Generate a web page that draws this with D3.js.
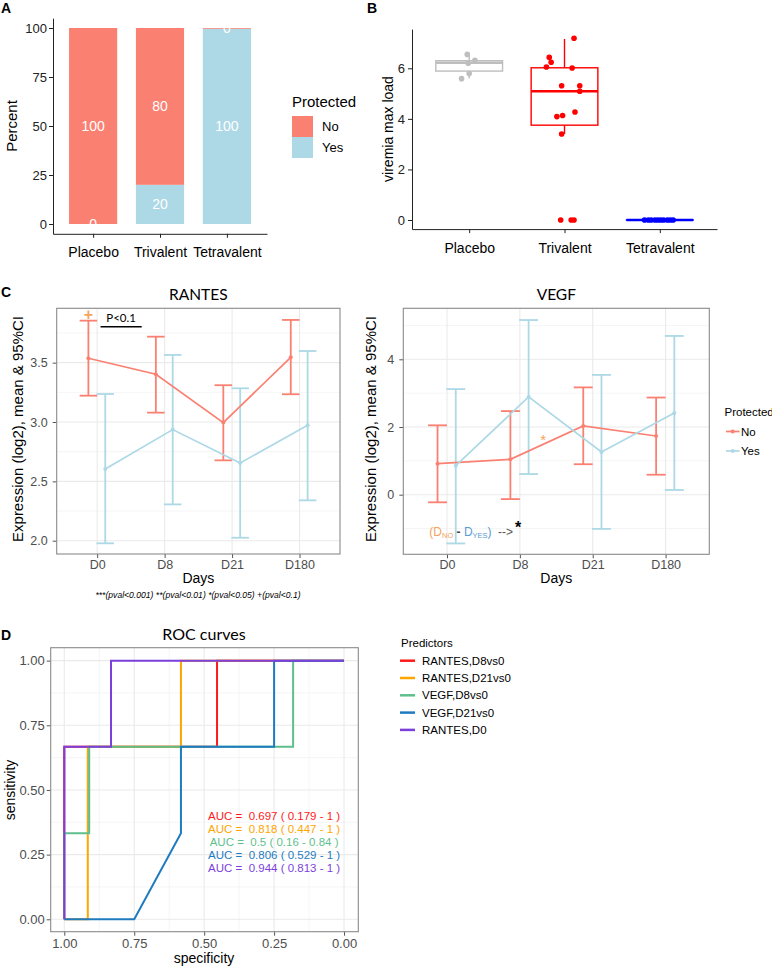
<!DOCTYPE html>
<html><head><meta charset="utf-8">
<script src="https://cdn.jsdelivr.net/npm/d3@7"></script>
<style>body{margin:0;background:#fff} svg{display:block}</style>
</head><body><svg id="c" width="772" height="966"></svg>
<script>
// ---------- Panel A data ----------
const groupsA = ["Placebo", "Trivalent", "Tetravalent"];
const pctNo = [100, 80, 0.4];
const pctYes = [0, 20, 99.6];
const ticksA = [0, 25, 50, 75, 100];
const legendA = ["No", "Yes"];

// ---------- Panel B data ----------
const groupsB = ["Placebo", "Trivalent", "Tetravalent"];
const boxLow = [5.6, 3.40, 0];
const boxQ1 = [5.89, 3.75, 0];
const boxMed = [6.22, 5.09, 0];
const boxQ3 = [6.30, 6.02, 0];
const boxHigh = [6.55, 7.16, 0];
const ptsPlacebo = [6.55, 6.32, 6.20, 5.79, 5.59];
const jitPlacebo = [-0.02, 0.06, -0.01, 0.00, -0.08];
const ptsTrivalent = [7.19, 6.43, 6.24, 6.05, 6.01, 5.31, 5.31, 5.09, 4.09, 4.13, 4.27, 3.40, 0, 0, 0];
const jitTrivalent = [0.10, -0.16, -0.14, -0.19, 0.08, -0.03, 0.16, 0.16, -0.08, -0.02, 0.11, -0.03, -0.04, 0.07, 0.10];
const ptsTetravalent = [0, 0, 0, 0, 0, 0, 0, 0, 0, 0];
const jitTetravalent = [-0.16, -0.12, -0.09, -0.05, -0.02, 0.01, 0.04, 0.08, 0.11, 0.14];
const ticksB = [0, 2, 4, 6];

// ---------- Panel C data ----------
const days = ["D0", "D8", "D21", "D180"];
const rantesNoMean = [3.537, 3.402, 2.995, 3.545];
const rantesNoLo = [3.222, 3.079, 2.677, 3.234];
const rantesNoHi = [3.854, 3.719, 3.310, 3.860];
const rantesYesMean = [2.604, 2.936, 2.655, 2.972];
const rantesYesLo = [1.978, 2.306, 2.025, 2.340];
const rantesYesHi = [3.236, 3.565, 3.284, 3.598];
const vegfNoMean = [0.916, 1.046, 2.03, 1.735];
const vegfNoLo = [-0.225, -0.13, 0.90, 0.59];
const vegfNoHi = [2.05, 2.47, 3.17, 2.87];
const vegfYesMean = [0.857, 2.89, 1.26, 2.41];
const vegfYesLo = [-1.44, 0.61, -1.01, 0.14];
const vegfYesHi = [3.12, 5.16, 3.54, 4.69];
const ticksRantes = [2.0, 2.5, 3.0, 3.5];
const minorRantes = [2.25, 2.75, 3.25, 3.75];
const ticksVegf = [0, 2, 4];
const minorVegf = [-1, 1, 3, 5];
const footnote = "***(pval<0.001) **(pval<0.01) *(pval<0.05) +(pval<0.1)";

// ---------- Panel D data ----------
const predictors = ["RANTES,D8vs0", "RANTES,D21vs0", "VEGF,D8vs0", "VEGF,D21vs0", "RANTES,D0"];
const specRantesD8 = [1, 1, 0.454, 0.454, 0];
const sensRantesD8 = [0, 0.667, 0.667, 1, 1];
const specRantesD21 = [1, 0.916, 0.916, 0.583, 0.583, 0];
const sensRantesD21 = [0, 0, 0.667, 0.667, 1, 1];
const specVegfD8 = [1, 1, 0.911, 0.911, 0.182, 0.182, 0];
const sensVegfD8 = [0, 0.333, 0.333, 0.667, 0.667, 1, 1];
const specVegfD21 = [1, 0.75, 0.583, 0.583, 0.25, 0.25, 0];
const sensVegfD21 = [0, 0, 0.333, 0.667, 0.667, 1, 1];
const specRantesD0 = [1, 1, 0.833, 0.833, 0];
const sensRantesD0 = [0, 0.667, 0.667, 1, 1];
const aucLabels = ["AUC =  0.697 ( 0.179 - 1 )", "AUC =  0.818 ( 0.447 - 1 )", "AUC =  0.5 ( 0.16 - 0.84 )", "AUC =  0.806 ( 0.529 - 1 )", "AUC =  0.944 ( 0.813 - 1 )"];
const ticksD = [0, 0.25, 0.5, 0.75, 1];
const minorD = [0.125, 0.375, 0.625, 0.875];

// ---------- styles ----------
const FONT = "'Liberation Sans', Arial, sans-serif";
const TFONT = "Lato, 'Open Sans', sans-serif";
const NO_COL = "#FA8072", YES_COL = "#ADD8E6";
const boxCols = ["#BEBEBE", "#FF0000", "#0000FF"];
const rocCols = ["#FF1A1A", "#FFA500", "#5FBF8C", "#1F7BBF", "#7B3FDC"];
const svg = d3.select("#c");

function txt(x, y, s, o = {}) {
  const t = svg.append("text").attr("x", x).attr("y", y).text(s)
    .attr("font-family", o.family || FONT).attr("font-size", o.size || 12)
    .attr("fill", o.fill || "#000");
  if (o.anchor) t.attr("text-anchor", o.anchor);
  if (o.weight) t.attr("font-weight", o.weight);
  if (o.style) t.attr("font-style", o.style);
  if (o.rotate) t.attr("transform", `rotate(-90,${x},${y})`);
  return t;
}
function styleAxis(g, size, color, tickColor) {
  g.attr("font-family", FONT).attr("font-size", size);
  g.selectAll("text").attr("fill", color);
  g.selectAll(".tick line").attr("stroke", tickColor || color);
  g.select(".domain").attr("stroke", tickColor || color);
}

// ================= Panel A =================
txt(1, 13, "A", { size: 14, weight: "bold" });
const xA = d3.scaleLinear().domain([0.4, 3.6]).range([53, 267]);
const yA = d3.scaleLinear().domain([-5, 105]).range([233.8, 18.2]);
const bwA = xA(0.72) - xA(0);
groupsA.forEach((g, i) => {
  const xc = xA(i + 1);
  svg.append("rect").attr("x", xc - bwA / 2).attr("y", yA(pctYes[i]))
    .attr("width", bwA).attr("height", yA(0) - yA(pctYes[i])).attr("fill", YES_COL);
  svg.append("rect").attr("x", xc - bwA / 2).attr("y", yA(pctYes[i] + pctNo[i]))
    .attr("width", bwA).attr("height", yA(pctYes[i]) - yA(pctYes[i] + pctNo[i])).attr("fill", NO_COL);
});
groupsA.forEach((g, i) => {
  const xc = xA(i + 1);
  txt(xc, yA(pctYes[i] + pctNo[i] / 2), Math.round(pctNo[i]), { size: 14, fill: "#fff", anchor: "middle" }).attr("dy", "0.36em");
  txt(xc, yA(pctYes[i] / 2), Math.round(pctYes[i]), { size: 14, fill: "#fff", anchor: "middle" }).attr("dy", "0.36em");
});
const axAx = svg.append("g").attr("transform", `translate(0,${yA(-5)})`)
  .call(d3.axisBottom(xA).tickValues([1, 2, 3]).tickFormat(d => groupsA[d - 1]).tickSize(4).tickSizeOuter(0).tickPadding(9));
styleAxis(axAx, 14, "#000", "#222");
const axAy = svg.append("g").attr("transform", `translate(${xA(0.4)},0)`)
  .call(d3.axisLeft(yA).tickValues(ticksA).tickSize(4).tickSizeOuter(0).tickPadding(2));
styleAxis(axAy, 13, "#222", "#222");
txt(17, 126, "Percent", { size: 15, anchor: "middle", rotate: true });
txt(292, 107, "Protected", { size: 15 });
legendA.forEach((l, i) => {
  svg.append("rect").attr("x", 292).attr("y", 116 + i * 21).attr("width", 21).attr("height", 21)
    .attr("fill", i === 0 ? NO_COL : YES_COL);
  txt(322, 131 + i * 21, l, { size: 13 });
});

// ================= Panel B =================
txt(367, 13, "B", { size: 14, weight: "bold" });
const xB = d3.scaleLinear().domain([0.4, 3.6]).range([412, 717]);
const yB = d3.scaleLinear().domain([-0.36, 7.55]).range([229.1, 29.1]);
const hwB = (xB(0.7) - xB(0)) / 2;
groupsB.forEach((g, i) => {
  const xc = xB(i + 1), c = boxCols[i];
  svg.append("line").attr("x1", xc).attr("x2", xc).attr("y1", yB(boxHigh[i])).attr("y2", yB(boxQ3[i])).attr("stroke", c).attr("stroke-width", 1.4);
  svg.append("line").attr("x1", xc).attr("x2", xc).attr("y1", yB(boxQ1[i])).attr("y2", yB(boxLow[i])).attr("stroke", c).attr("stroke-width", 1.4);
  svg.append("rect").attr("x", xc - hwB).attr("y", yB(boxQ3[i])).attr("width", hwB * 2)
    .attr("height", Math.max(0.01, yB(boxQ1[i]) - yB(boxQ3[i]))).attr("fill", "#fff").attr("stroke", c).attr("stroke-width", 1.4);
  svg.append("line").attr("x1", xc - hwB).attr("x2", xc + hwB).attr("y1", yB(boxMed[i])).attr("y2", yB(boxMed[i])).attr("stroke", c).attr("stroke-width", 2.4);
});
[[ptsPlacebo, jitPlacebo], [ptsTrivalent, jitTrivalent], [ptsTetravalent, jitTetravalent]].forEach(([pts, jit], i) => {
  svg.append("g").selectAll("circle").data(pts).join("circle")
    .attr("cx", (d, k) => xB(i + 1 + jit[k])).attr("cy", d => yB(d)).attr("r", 2.8).attr("fill", boxCols[i]);
});
const axBx = svg.append("g").attr("transform", `translate(0,${yB(-0.36)})`)
  .call(d3.axisBottom(xB).tickValues([1, 2, 3]).tickFormat(d => groupsB[d - 1]).tickSize(4).tickSizeOuter(0).tickPadding(10));
styleAxis(axBx, 14, "#000", "#222");
const axBy = svg.append("g").attr("transform", `translate(${xB(0.4)},0)`)
  .call(d3.axisLeft(yB).tickValues(ticksB).tickSize(4).tickSizeOuter(0).tickPadding(3));
styleAxis(axBy, 13, "#222", "#222");
txt(393, 129, "viremia max load", { size: 14, anchor: "middle", rotate: true });

// ================= Panel C =================
txt(1, 297, "C", { size: 14, weight: "bold" });
function linePanel(cfg) {
  const x = d3.scaleLinear().domain([0.4, 4.6]).range([cfg.left, cfg.right]);
  const y = d3.scaleLinear().domain(cfg.ydom).range([cfg.bottom, cfg.top]);
  const g = svg.append("g");
  cfg.minor.forEach(v => { if (v > cfg.ydom[0] && v < cfg.ydom[1]) g.append("line").attr("x1", cfg.left).attr("x2", cfg.right).attr("y1", y(v)).attr("y2", y(v)).attr("stroke", "#F2F2F2").attr("stroke-width", 0.8); });
  cfg.ticks.forEach(v => g.append("line").attr("x1", cfg.left).attr("x2", cfg.right).attr("y1", y(v)).attr("y2", y(v)).attr("stroke", "#EAEAEA").attr("stroke-width", 1.1));
  days.forEach((d, i) => g.append("line").attr("x1", x(i + 1)).attr("x2", x(i + 1)).attr("y1", cfg.top).attr("y2", cfg.bottom).attr("stroke", "#EAEAEA").attr("stroke-width", 1.1));
  const ax = svg.append("g").attr("transform", `translate(0,${cfg.bottom})`)
    .call(d3.axisBottom(x).tickValues([1, 2, 3, 4]).tickFormat(d => days[d - 1]).tickSize(4).tickSizeOuter(0).tickPadding(2));
  styleAxis(ax, 12.5, "#4D4D4D", "#555"); ax.select(".domain").remove();
  const ay = svg.append("g").attr("transform", `translate(${cfg.left},0)`)
    .call(d3.axisLeft(y).tickValues(cfg.ticks).tickFormat(cfg.fmt).tickSize(4).tickSizeOuter(0).tickPadding(5));
  styleAxis(ay, 12.5, "#4D4D4D", "#555"); ay.select(".domain").remove();
  svg.append("rect").attr("x", cfg.left).attr("y", cfg.top).attr("width", cfg.right - cfg.left).attr("height", cfg.bottom - cfg.top)
    .attr("fill", "none").attr("stroke", "#8A8A8A").attr("stroke-width", 1.1);
  const series = [
    { mean: cfg.noMean, lo: cfg.noLo, hi: cfg.noHi, col: NO_COL, dx: -0.13 },
    { mean: cfg.yesMean, lo: cfg.yesLo, hi: cfg.yesHi, col: YES_COL, dx: 0.12 }
  ];
  const capW = 0.13;
  series.forEach(s => {
    s.mean.forEach((m, i) => {
      const xc = i + 1 + s.dx;
      svg.append("line").attr("x1", x(xc)).attr("x2", x(xc)).attr("y1", y(s.lo[i])).attr("y2", y(s.hi[i])).attr("stroke", s.col).attr("stroke-width", 1.8);
      svg.append("line").attr("x1", x(xc - capW)).attr("x2", x(xc + capW)).attr("y1", y(s.lo[i])).attr("y2", y(s.lo[i])).attr("stroke", s.col).attr("stroke-width", 1.8);
      svg.append("line").attr("x1", x(xc - capW)).attr("x2", x(xc + capW)).attr("y1", y(s.hi[i])).attr("y2", y(s.hi[i])).attr("stroke", s.col).attr("stroke-width", 1.8);
    });
  });
  const ln = d3.line().x(d => x(d[0])).y(d => y(d[1]));
  series.forEach(s => {
    svg.append("path").attr("d", ln(s.mean.map((m, i) => [i + 1 + s.dx, m]))).attr("fill", "none").attr("stroke", s.col).attr("stroke-width", 1.7);
  });
  series.forEach(s => {
    svg.append("g").selectAll("circle").data(s.mean).join("circle")
      .attr("cx", (m, i) => x(i + 1 + s.dx)).attr("cy", m => y(m)).attr("r", 2).attr("fill", s.col);
  });
  const cx = (cfg.left + cfg.right) / 2;
  txt(cx, 300, cfg.title, { size: 15.5, anchor: "middle", family: TFONT });
  txt(cx, 583, "Days", { size: 14, anchor: "middle" });
  return { x, y };
}
const pR = linePanel({ left: 56.7, right: 340, top: 308.3, bottom: 554, ydom: [1.888, 3.958], ticks: ticksRantes, minor: minorRantes,
  fmt: d3.format(".1f"), title: "RANTES", noMean: rantesNoMean, noLo: rantesNoLo, noHi: rantesNoHi,
  yesMean: rantesYesMean, yesLo: rantesYesLo, yesHi: rantesYesHi });
const pV = linePanel({ left: 403.3, right: 709.3, top: 308.3, bottom: 554.3, ydom: [-1.761, 5.507], ticks: ticksVegf, minor: minorVegf,
  fmt: d3.format("d"), title: "VEGF", noMean: vegfNoMean, noLo: vegfNoLo, noHi: vegfNoHi,
  yesMean: vegfYesMean, yesLo: vegfYesLo, yesHi: vegfYesHi });
txt(23, 429, "Expression (log2), mean & 95%CI", { size: 15, anchor: "middle", rotate: true });
txt(376, 429, "Expression (log2), mean & 95%CI", { size: 15, anchor: "middle", rotate: true });
txt(198, 598, footnote, { size: 8.6, anchor: "middle", style: "italic" });
// RANTES annotations
txt(pR.x(0.87), pR.y(3.91), "+", { size: 16, anchor: "middle", fill: "#F4A460", weight: "bold" }).attr("dy", "0.35em");
txt(pR.x(1.355), pR.y(3.843), "P<0.1", { size: 11.5, anchor: "middle", family: TFONT });
svg.append("line").attr("x1", pR.x(1.05)).attr("x2", pR.x(1.66)).attr("y1", pR.y(3.803)).attr("y2", pR.y(3.803)).attr("stroke", "#000").attr("stroke-width", 1.4);
// VEGF annotations
txt(pV.x(2.32), pV.y(1.71), "*", { size: 15, anchor: "middle", fill: "#F4A460" }).attr("dy", "0.55em");
const ann = svg.append("text").attr("x", pV.x(0.757)).attr("y", pV.y(-1.22)).attr("font-size", 12).attr("font-family", FONT).style("white-space", "pre");
ann.append("tspan").attr("fill", "#F4A460").text("(D");
ann.append("tspan").attr("fill", "#F4A460").attr("font-size", 7.5).attr("dy", 2.5).text("NO");
ann.append("tspan").attr("fill", "#444").attr("dy", -2.5).attr("font-weight", "bold").text(" - ");
ann.append("tspan").attr("fill", "#5B9BD5").text("D");
ann.append("tspan").attr("fill", "#5B9BD5").attr("font-size", 7.5).attr("dy", 2.5).text("YES");
ann.append("tspan").attr("fill", "#5B9BD5").attr("dy", -2.5).text(")");
ann.append("tspan").attr("fill", "#555").attr("dx", 3).text(" -->");
ann.append("tspan").attr("fill", "#000").attr("font-size", 16).attr("font-weight", "bold").attr("dx", 2).attr("dy", -3).text("*");
// legend C
txt(724.5, 416, "Protected", { size: 11.5 });
legendA.forEach((l, i) => {
  const yy = 431.5 + i * 19.5, c = i === 0 ? NO_COL : YES_COL;
  svg.append("line").attr("x1", 726).attr("x2", 739.5).attr("y1", yy).attr("y2", yy).attr("stroke", c).attr("stroke-width", 1.7);
  svg.append("circle").attr("cx", 732.7).attr("cy", yy).attr("r", 2).attr("fill", c);
  txt(741, yy + 4.2, l, { size: 11.5 });
});

// ================= Panel D =================
txt(1, 640, "D", { size: 14, weight: "bold" });
const xD = d3.scaleLinear().domain([1.0486, -0.051]).range([50.7, 358.3]);
const yD = d3.scaleLinear().domain([-0.048, 1.05]).range([931.7, 647.7]);
const gD = svg.append("g");
minorD.forEach(v => {
  gD.append("line").attr("x1", xD(v)).attr("x2", xD(v)).attr("y1", 647.7).attr("y2", 931.7).attr("stroke", "#F2F2F2").attr("stroke-width", 0.8);
  gD.append("line").attr("x1", 50.7).attr("x2", 358.3).attr("y1", yD(v)).attr("y2", yD(v)).attr("stroke", "#F2F2F2").attr("stroke-width", 0.8);
});
ticksD.forEach(v => {
  gD.append("line").attr("x1", xD(v)).attr("x2", xD(v)).attr("y1", 647.7).attr("y2", 931.7).attr("stroke", "#EAEAEA").attr("stroke-width", 1.1);
  gD.append("line").attr("x1", 50.7).attr("x2", 358.3).attr("y1", yD(v)).attr("y2", yD(v)).attr("stroke", "#EAEAEA").attr("stroke-width", 1.1);
});
const axDx = svg.append("g").attr("transform", "translate(0,931.7)")
  .call(d3.axisBottom(xD).tickValues(ticksD).tickFormat(d3.format(".2f")).tickSize(4).tickSizeOuter(0).tickPadding(3));
styleAxis(axDx, 13, "#4D4D4D", "#555"); axDx.select(".domain").remove();
const axDy = svg.append("g").attr("transform", "translate(50.7,0)")
  .call(d3.axisLeft(yD).tickValues(ticksD).tickFormat(d3.format(".2f")).tickSize(4).tickSizeOuter(0).tickPadding(2));
styleAxis(axDy, 13, "#4D4D4D", "#555"); axDy.select(".domain").remove();
svg.append("rect").attr("x", 50.7).attr("y", 647.7).attr("width", 307.6).attr("height", 284)
  .attr("fill", "none").attr("stroke", "#8A8A8A").attr("stroke-width", 1.1);
const rocSpec = [specRantesD8, specRantesD21, specVegfD8, specVegfD21, specRantesD0];
const rocSens = [sensRantesD8, sensRantesD21, sensVegfD8, sensVegfD21, sensRantesD0];
const lnD = d3.line().x(d => xD(d[0])).y(d => yD(d[1]));
predictors.forEach((p, k) => {
  svg.append("path").attr("d", lnD(rocSpec[k].map((s, i) => [s, rocSens[k][i]])))
    .attr("fill", "none").attr("stroke", rocCols[k]).attr("stroke-width", 2).attr("stroke-linejoin", "miter");
});
aucLabels.forEach((a, k) => {
  txt(xD(0.25), yD(0.384) + k * 13, a, { size: 11.5, anchor: "middle", fill: rocCols[k] }).style("white-space", "pre");
});
txt(204, 640, "ROC curves", { size: 16, anchor: "middle", family: TFONT });
txt(204, 962.5, "specificity", { size: 14, anchor: "middle" });
txt(15, 790, "sensitivity", { size: 14, anchor: "middle", rotate: true });
txt(401, 647, "Predictors", { size: 11.5 });
predictors.forEach((p, k) => {
  const yy = 660.7 + k * 17.3;
  svg.append("line").attr("x1", 400).attr("x2", 415).attr("y1", yy).attr("y2", yy).attr("stroke", rocCols[k]).attr("stroke-width", 2.5);
  txt(422, yy + 4, p, { size: 11.5 });
});
</script></body></html>
